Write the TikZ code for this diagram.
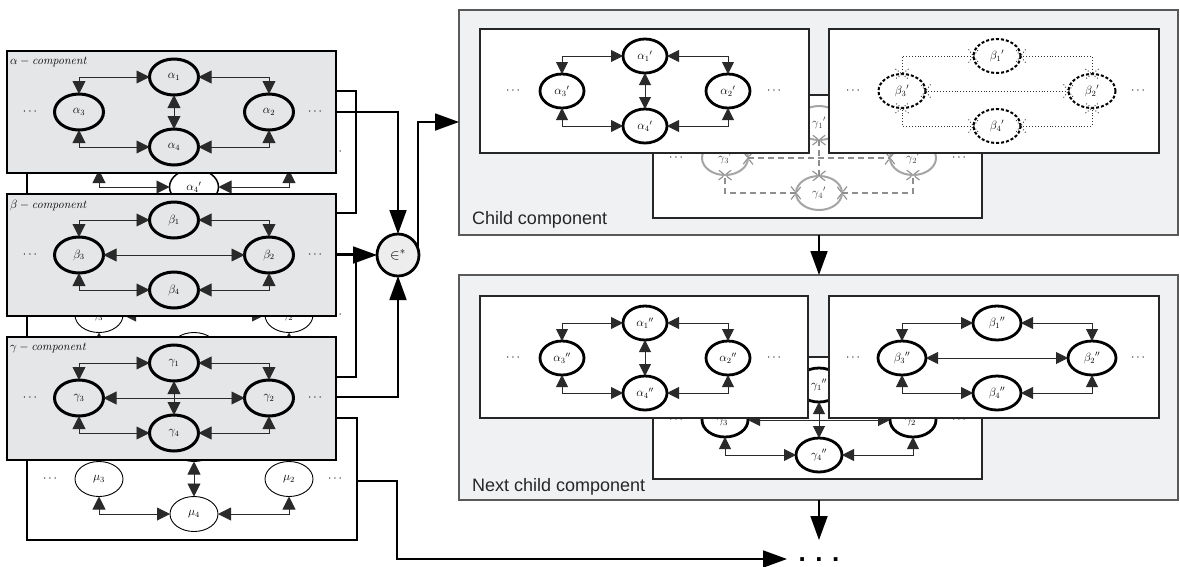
\documentclass[tikz,border=0pt]{standalone}
\usepackage{fontspec}
\setsansfont{Liberation Sans}
\usetikzlibrary{arrows.meta,shapes.geometric}

\pgfdeclarearrow{
  name = Xm,
  parameters = {\the\pgfarrowlength,\the\pgfarrowwidth},
  setup code = {
    \pgfarrowssettipend{0pt}
    \pgfarrowssetlineend{0pt}
    \pgfarrowssetbackend{-\pgfarrowlength}
    \pgfarrowssetvisualbackend{-\pgfarrowlength}
    \pgfarrowssavethe\pgfarrowlength
    \pgfarrowssavethe\pgfarrowwidth
  },
  drawing code = {
    \pgfpathmoveto{\pgfqpoint{-\pgfarrowlength}{.5\pgfarrowwidth}}
    \pgfpathlineto{\pgfqpoint{\pgfarrowlength}{-.5\pgfarrowwidth}}
    \pgfpathmoveto{\pgfqpoint{-\pgfarrowlength}{-.5\pgfarrowwidth}}
    \pgfpathlineto{\pgfqpoint{\pgfarrowlength}{.5\pgfarrowwidth}}
    \pgfusepathqstroke
  },
  defaults = {length = 5pt, width = 13pt}
}

\definecolor{boxgray}{HTML}{E5E6E8}
\definecolor{panelgray}{HTML}{F0F1F3}
\definecolor{edgegray}{HTML}{2A2A2A}
\definecolor{ggray}{HTML}{8E8E8E}

\newcommand\Gnodes[7]{%
  \node[#5] (#11) at (#2,#3) {${#6_1}#7$};
  \node[#5] (#13) at (#2-#4,#3+35) {${#6_3}#7$};
  \node[#5] (#12) at (#2+#4,#3+35) {${#6_2}#7$};
  \node[#5] (#14) at (#2,#3+70) {${#6_4}#7$};
  \node[dotsn] (#1L) at (#2-#4-49,#3+35) {$\cdots$};
  \node[dotsn] (#1R) at (#2+#4+46,#3+35) {$\cdots$};
}
\newcommand\Sedges[2]{%
  \draw[#2] (#11.west) -| (#13.north);
  \draw[#2] (#11.east) -| (#12.north);
  \draw[#2] (#14.west) -| (#13.south);
  \draw[#2] (#14.east) -| (#12.south);
}
\newcommand\Vedge[2]{\draw[#2] (#11) -- (#14);}
\newcommand\Hedge[2]{\draw[#2] (#13) -- (#12);}

\begin{document}
\begin{tikzpicture}[x=1pt,y=-1pt,
  every node/.style={inner sep=0pt, outer sep=0pt},
  bx/.style={anchor=north west},
  gbox/.style={bx, draw=black, line width=1.8pt, fill=boxgray},
  wbox/.style={bx, draw=black, line width=1.4pt, fill=white},
  ibox/.style={bx, draw=black!85, line width=1.8pt, fill=white},
  panel/.style={bx, draw=black!65, line width=1.3pt, fill=panelgray},
  lab/.style={font=\fontsize{12}{12}\selectfont},
  nthick/.style={ellipse, draw=black, line width=3pt, minimum width=49pt, minimum height=36pt, lab},
  nmid/.style={ellipse, draw=black, line width=1.5pt, minimum width=49pt, minimum height=36pt, lab},
  nthin/.style={ellipse, draw=black, line width=0.9pt, minimum width=48pt, minimum height=35pt, lab},
  nthickr/.style={ellipse, draw=black, line width=2.8pt, minimum width=44pt, minimum height=34pt, lab},
  ndash/.style={ellipse, draw=black, line width=2pt, dash pattern=on 3pt off 2pt, minimum width=47pt, minimum height=34pt, lab},
  ngray/.style={ellipse, draw=ggray!80, line width=2pt, minimum width=46pt, minimum height=34pt, lab, text=black!75},
  dotsn/.style={lab},
  ge/.style={draw=edgegray, line width=0.9pt, {Triangle[length=13pt,width=13pt]}-{Triangle[length=13pt,width=13pt]}},
  ger/.style={draw=edgegray, line width=0.9pt, {Triangle[length=12pt,width=12pt]}-{Triangle[length=12pt,width=12pt]}},
  gdot/.style={draw=black!80, line width=0.9pt, dotted, {Xm}-{Xm}},
  gdash/.style={draw=ggray, line width=1.1pt, dash pattern=on 6pt off 4pt, {Xm}-{Xm}},
  bigarr/.style={draw=black, line width=1.8pt, -{Triangle[length=24pt,width=17pt]}},
  clab/.style={anchor=west, font=\fontsize{12}{12}\selectfont},
  plab/.style={anchor=west, font=\sffamily\fontsize{18}{18}\selectfont, text=black!85}
]
\useasboundingbox (0,0) rectangle (1180,566);

% ---------- left stack: background boxes ----------
\node[wbox, minimum width=330pt, minimum height=122pt] (M) at (27,418) {};
\Gnodes{m}{194}{444}{95}{nthin}{\mu}{}
\Sedges{m}{ge}\Vedge{m}{ge}

\node[wbox, minimum width=329pt, minimum height=123pt] (BB) at (27,254) {};
\Gnodes{bb}{194}{280}{95}{nthin}{\gamma}{'}
\Sedges{bb}{ge}\Hedge{bb}{ge}

\node[wbox, minimum width=329pt, minimum height=122pt] (AB) at (27,91) {};
\Gnodes{ab}{194}{117}{95}{nmid}{\alpha}{'}
\Sedges{ab}{ge}\Vedge{ab}{ge}

% ---------- left stack: components ----------
\node[gbox, minimum width=329pt, minimum height=122pt] (A) at (7,51) {};
\node[clab] (Alab) at (10,62) {$\alpha-{}$\textit{component}};
\Gnodes{a}{174}{77}{95}{nthick}{\alpha}{}
\Sedges{a}{ge}\Vedge{a}{ge}

\node[gbox, minimum width=329pt, minimum height=122pt] (B) at (7,194) {};
\node[clab] (Blab) at (10,205) {$\beta-{}$\textit{component}};
\Gnodes{b}{174}{220}{95}{nthick}{\beta}{}
\Sedges{b}{ge}\Hedge{b}{ge}

\node[gbox, minimum width=329pt, minimum height=123pt] (G) at (7,337) {};
\node[clab] (Glab) at (10,348) {$\gamma-{}$\textit{component}};
\Gnodes{g}{174}{363}{95}{nthick}{\gamma}{}
\Sedges{g}{ge}\Vedge{g}{ge}\Hedge{g}{ge}

% ---------- combination node ----------
\node[circle, draw=black, line width=2.8pt, fill=black!7, minimum size=42pt,
      font=\fontsize{15}{15}\selectfont] (circ) at (398,255) {$\in^{*}$};

% ---------- right: child component ----------
\node[panel, minimum width=719pt, minimum height=225pt] (P1) at (459,10) {};
\node[plab] (P1lab) at (472,220) {Child component};

\node[ibox, minimum width=329pt, minimum height=123pt] (GP) at (653,95) {};
\Gnodes{gp}{819}{123}{94}{ngray}{\gamma}{'}
\Sedges{gp}{gdash}\Vedge{gp}{gdash}\Hedge{gp}{gdash}

\node[ibox, minimum width=329pt, minimum height=124pt] (AP) at (480,29) {};
\Gnodes{ap}{645}{56}{83}{nthickr}{\alpha}{'}
\Sedges{ap}{ger}\Vedge{ap}{ger}

\node[ibox, minimum width=330pt, minimum height=124pt] (BP) at (829,29) {};
\Gnodes{bp}{997}{56}{95}{ndash}{\beta}{'}
\Sedges{bp}{gdot}\Hedge{bp}{gdot}

% ---------- right: next child component ----------
\node[panel, minimum width=719pt, minimum height=225pt] (P2) at (459,275) {};
\node[plab] (P2lab) at (472,487) {Next child component};

\node[ibox, minimum width=329pt, minimum height=122pt] (GQ) at (653,357) {};
\Gnodes{gq}{819}{385}{94}{nthickr,minimum width=46pt}{\gamma}{''}
\Sedges{gq}{ger}\Vedge{gq}{ger}\Hedge{gq}{ger}

\node[ibox, minimum width=328pt, minimum height=122pt] (AQ) at (480,296) {};
\Gnodes{aq}{645}{323}{83}{nthickr}{\alpha}{''}
\Sedges{aq}{ger}\Vedge{aq}{ger}

\node[ibox, minimum width=330pt, minimum height=122pt] (BQ) at (829,296) {};
\Gnodes{bq}{997}{323}{95}{nthickr,minimum width=48pt}{\beta}{''}
\Sedges{bq}{ger}\Hedge{bq}{ger}

% ---------- final ellipsis ----------
\node[font=\sffamily\bfseries\fontsize{26}{26}\selectfont] (etc) at (819,560) {. . .};

% ---------- connectors ----------
\coordinate (aout) at (336,112);
\coordinate (gout) at (336,397);
\coordinate (mout) at (357,481);
\coordinate (pin)  at (459,122);
\coordinate (vx)   at (819,0);
\coordinate (etcin) at (787,559);
\coordinate (etctop) at (819,540);

\draw[bigarr] (aout) -| (circ.north);
\draw[bigarr] (B.east |- circ.west) -- (circ.west);
\draw[bigarr] (gout) -| (circ.south);
\draw[bigarr] (circ.18) |- (pin);
\draw[bigarr] (P1.south -| vx) -- (P2.north -| vx);
\draw[bigarr] (P2.south -| vx) -- (etctop);
\draw[bigarr] (mout) -- ++(40,0) |- (etcin);
\end{tikzpicture}
\end{document}
